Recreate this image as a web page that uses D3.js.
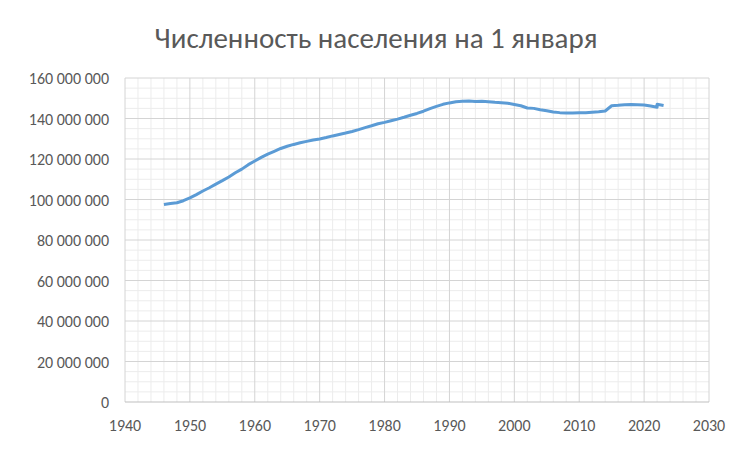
<!DOCTYPE html><html><head><meta charset="utf-8"><script src="https://cdn.jsdelivr.net/npm/d3@7"></script>
<style>body{margin:0;background:#fff}text{font-family:Carlito,"Liberation Sans",sans-serif;fill:#595959}</style></head><body><svg width="751" height="452"></svg><script>
const years=[1946,1947,1948,1949,1950,1951,1952,1953,1954,1955,1956,1957,1958,1959,1960,1961,1962,1963,1964,1965,1966,1967,1968,1969,1970,1971,1972,1973,1974,1975,1976,1977,1978,1979,1980,1981,1982,1983,1984,1985,1986,1987,1988,1989,1990,1991,1992,1993,1994,1995,1996,1997,1998,1999,2000,2001,2002,2003,2004,2005,2006,2007,2008,2009,2010,2011,2012,2013,2014,2015,2016,2017,2018,2019,2020,2021,2022,2022,2023];
const population=[97.5,98.0,98.4,99.4,100.8,102.4,104.2,105.8,107.6,109.3,111.1,113.2,115.0,117.2,119.0,120.8,122.4,123.8,125.2,126.3,127.2,128.0,128.7,129.4,129.9,130.6,131.4,132.1,132.8,133.6,134.5,135.5,136.4,137.4,138.1,138.9,139.7,140.6,141.6,142.5,143.6,144.9,146.0,147.0,147.7,148.3,148.5,148.6,148.4,148.5,148.3,148.0,147.8,147.5,146.9,146.3,145.2,145.0,144.3,143.8,143.2,142.9,142.7,142.7,142.8,142.9,143.1,143.3,143.7,146.3,146.5,146.8,146.9,146.8,146.7,146.2,145.6,147.0,146.4].map(v=>v*1e6);
const xTicks=[1940,1950,1960,1970,1980,1990,2000,2010,2020,2030];
const yTicks=[0,20e6,40e6,60e6,80e6,100e6,120e6,140e6,160e6];
const title="Численность населения на 1 января";
const svg=d3.select("svg");
const x=d3.scaleLinear().domain([1940,2030]).range([125,709]);
const y=d3.scaleLinear().domain([0,160e6]).range([402,78]);
const g=svg.append("g");
d3.range(1940,2031,2).forEach(v=>{if(v%10)g.append("line").attr("x1",x(v)).attr("x2",x(v)).attr("y1",y(0)).attr("y2",y(160e6)).attr("stroke","#ececec");});
d3.range(0,160e6+1,5e6).forEach(v=>{if(v%20e6)g.append("line").attr("y1",y(v)).attr("y2",y(v)).attr("x1",x(1940)).attr("x2",x(2030)).attr("stroke","#ececec");});
xTicks.forEach(v=>g.append("line").attr("x1",x(v)).attr("x2",x(v)).attr("y1",y(0)).attr("y2",y(160e6)).attr("stroke","#d4d4d4"));
yTicks.forEach(v=>g.append("line").attr("y1",y(v)).attr("y2",y(v)).attr("x1",x(1940)).attr("x2",x(2030)).attr("stroke",v?"#d4d4d4":"#bfbfbf"));
const fmt=v=>v===0?"0":d3.format(",")(v).replace(/,/g," ");
yTicks.forEach(v=>svg.append("text").attr("x",109).attr("y",y(v)+6).attr("text-anchor","end").attr("font-size",16).text(fmt(v)));
xTicks.forEach(v=>svg.append("text").attr("x",x(v)).attr("y",431).attr("text-anchor","middle").attr("font-size",16).text(v));
svg.append("text").attr("x",376).attr("y",48).attr("text-anchor","middle").attr("font-size",29).text(title);
const line=d3.line().x((d,i)=>x(years[i])).y(d=>y(d));
svg.append("path").attr("d",line(population)).attr("fill","none").attr("stroke","#5b9bd5").attr("stroke-width",3).attr("stroke-linejoin","round");
</script></body></html>
